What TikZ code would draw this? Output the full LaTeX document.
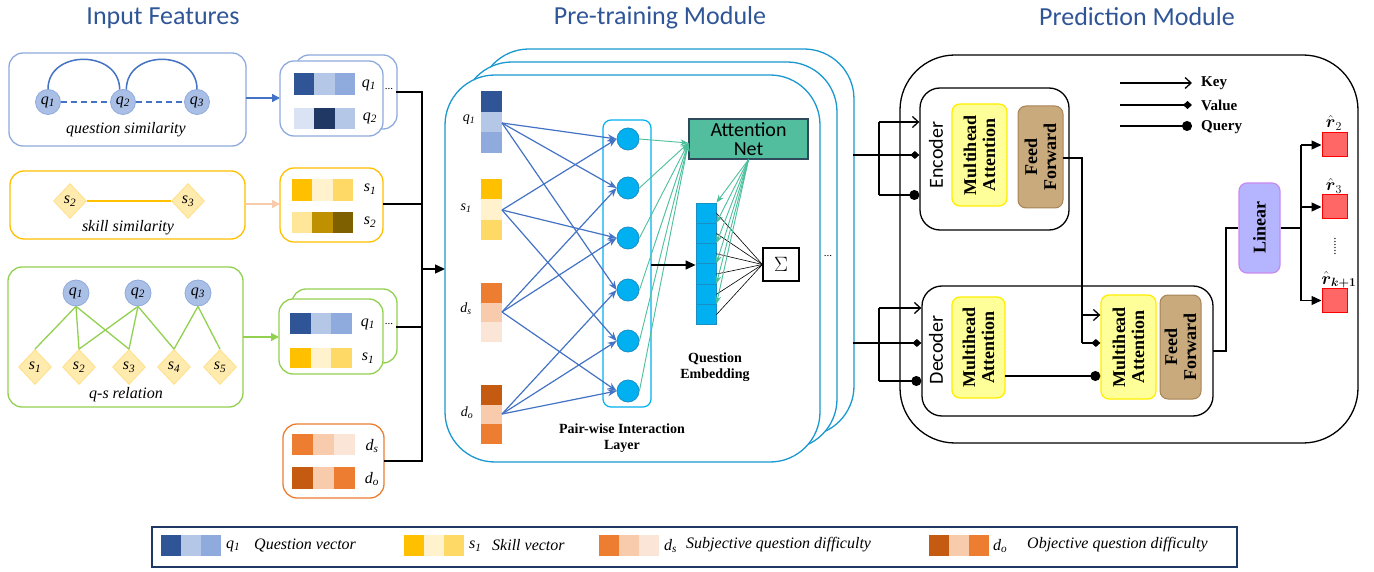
\documentclass[tikz,border=0pt]{standalone}
\usepackage{fontspec}
\usepackage{amsmath}
\setmainfont{Liberation Serif}
\newfontfamily\carl{Carlito}
\usetikzlibrary{arrows.meta,shapes.geometric,calc}
\definecolor{qA}{HTML}{2F5597}
\definecolor{qB}{HTML}{B4C7E7}
\definecolor{qC}{HTML}{8FAADC}
\definecolor{qD}{HTML}{DAE3F3}
\definecolor{qE}{HTML}{203864}
\definecolor{sA}{HTML}{FFC000}
\definecolor{sB}{HTML}{FFF2CC}
\definecolor{sC}{HTML}{FFD966}
\definecolor{sD}{HTML}{FFE699}
\definecolor{sE}{HTML}{BF9000}
\definecolor{sF}{HTML}{7F6000}
\definecolor{dA}{HTML}{ED7D31}
\definecolor{dB}{HTML}{F8CBAD}
\definecolor{dC}{HTML}{FBE5D6}
\definecolor{dD}{HTML}{C55A11}
\definecolor{qline}{HTML}{4472C4}
\definecolor{qfill}{HTML}{A9BFE6}
\definecolor{qdraw}{HTML}{8FAADC}
\definecolor{dfill}{HTML}{FFEBAD}
\definecolor{ddraw}{HTML}{FFE08A}
\definecolor{ggreen}{HTML}{92D050}
\definecolor{peach}{HTML}{F8CBAD}
\definecolor{modblue}{HTML}{1B98D0}
\definecolor{cyanA}{HTML}{00B0F0}
\definecolor{cyanB}{HTML}{1A8FC4}
\definecolor{attline}{HTML}{4CBF9C}
\definecolor{attfill}{HTML}{52BE9E}
\definecolor{attdraw}{HTML}{2E4A5C}
\definecolor{mhfill}{HTML}{FFFF99}
\definecolor{mhdraw}{HTML}{FFEE00}
\definecolor{fffill}{HTML}{C8AA7C}
\definecolor{ffdraw}{HTML}{A68458}
\definecolor{linfill}{HTML}{B4B4FF}
\definecolor{lindraw}{HTML}{CC88EE}
\definecolor{redfill}{HTML}{FF6666}
\definecolor{titleblue}{HTML}{2F5597}
\definecolor{legdraw}{HTML}{1F3864}
\newcommand\sbs[2]{#1\textsubscript{#2}}
% row of three cells: x y w h c1 c2 c3
\newcommand\hrow[7]{%
  \fill[#5] (#1,#2) rectangle ({#1+#3},{#2+#4});
  \fill[#6] ({#1+#3},#2) rectangle ({#1+2*#3},{#2+#4});
  \fill[#7] ({#1+2*#3},#2) rectangle ({#1+3*#3},{#2+#4});}
% column of three cells: x y w h c1 c2 c3
\newcommand\vcol[7]{%
  \fill[#5] (#1,#2) rectangle ({#1+#3},{#2+#4});
  \fill[#6] (#1,{#2+#4}) rectangle ({#1+#3},{#2+2*#4});
  \fill[#7] (#1,{#2+2*#4}) rectangle ({#1+#3},{#2+3*#4});}
\begin{document}
\begin{tikzpicture}[x=1pt,y=-1pt,
  every node/.style={inner sep=0pt},
  title/.style={font=\carl\fontsize{26}{26}\selectfont, text=titleblue},
  inbox/.style={rounded corners=14, line width=1.3, fill=white},
  qnode/.style={circle, fill=qfill, draw=qdraw, line width=0.8, minimum size=25, font=\fontsize{16}{16}\selectfont\itshape},
  snode/.style={diamond, fill=dfill, draw=ddraw, line width=0.8, minimum width=33, minimum height=35, font=\fontsize{16}{16}\selectfont\itshape},
  lab/.style={font=\fontsize{16}{16}\selectfont\itshape},
  vlab/.style={font=\fontsize{16}{16}\selectfont\itshape},
  mlab/.style={font=\fontsize{14}{14}\selectfont\itshape},
  blab/.style={font=\fontsize{14}{16}\selectfont\bfseries, align=center},
  feedarr/.style={line width=1.5, -{Triangle[length=8pt,width=8pt]}},
  blk/.style={line width=1.3, draw=black},
  modbox/.style={draw=modblue, line width=1.3, fill=white, rounded corners=50},
  pw/.style={draw=qline, line width=1.2, -{Stealth[length=9pt,width=7pt]}},
  circ/.style={circle, minimum size=22, fill=cyanA, draw=cyanB, line width=0.8},
  emb/.style={rectangle, minimum width=20, minimum height=20.3, fill=cyanA, draw=cyanB, line width=0.8},
  attl/.style={draw=attline, line width=0.9, -{Stealth[length=8pt,width=6pt]}},
  sq/.style={blk, rounded corners=20},
  mh/.style={rounded corners=8, fill=mhfill, draw=mhdraw, line width=1.3, align=center, font=\bfseries\fontsize{18}{19}\selectfont},
  ff/.style={rounded corners=8, fill=fffill, draw=ffdraw, line width=1.0, align=center, font=\bfseries\fontsize{18}{19}\selectfont},
  sideLab/.style={font=\carl\fontsize{20}{20}\selectfont, rotate=90},
  keyt/.style={blk, -{Straight Barb[length=6pt,width=11pt]}},
  valt/.style={blk, -{Diamond[length=9pt,width=8pt]}},
  qryt/.style={blk, -{Circle[length=10pt]}},
  tri/.style={blk, -{Triangle[length=10pt,width=9pt]}},
  redbox/.style={rectangle, minimum width=25, minimum height=24, fill=redfill, draw=red, line width=1},
  leglab/.style={font=\fontsize{16}{16}\selectfont\itshape, anchor=west}]
\useasboundingbox (0,0) rectangle (1374,572);

% ---------- titles
\node[title] (t1) at (163,18) {Input Features};
\node[title] (t2) at (660,18) {Pre-training Module};
\node[title] (t3) at (1137,17) {Prediction Module};

% ---------- question similarity
\draw[inbox, draw=qdraw] (9,53) rectangle (246,146);
\node[qnode] (a1) at (48,102) {\sbs{q}{1}};
\node[qnode] (a2) at (123,102) {\sbs{q}{2}};
\node[qnode] (a3) at (197,102) {\sbs{q}{3}};
\draw[qline, line width=1.5] (a1.north) .. controls +(0,-40) and +(0,-40) .. (a2.105);
\draw[qline, line width=1.5] (a2.75) .. controls +(0,-40) and +(0,-40) .. (a3.north);
\draw[qline, line width=1.5, dash pattern=on 6pt off 4pt] (a1.east) -- (a2.west);
\draw[qline, line width=1.5, dash pattern=on 6pt off 4pt] (a2.east) -- (a3.west);
\node[lab] (qsimt) at (126,130) {question similarity};
\coordinate (qsimo) at (246,98);
\coordinate (qveci) at (280,98);
\draw[feedarr, qline] (qsimo) -- (qveci);

\draw[inbox, draw=qdraw] (295,55) rectangle (397,129);
\draw[inbox, draw=qdraw] (280,61) rectangle (383,136);
\hrow{294}{73}{20.3}{22}{qA}{qB}{qC}
\hrow{294}{108}{20.3}{21}{qD}{qE}{qB}
\node[vlab] (qv1) at (369,85) {\sbs{q}{1}};
\node[vlab] (qv2) at (370,118) {\sbs{q}{2}};
\node[font=\fontsize{11}{11}\selectfont] (qdots) at (389,89) {...};

% ---------- skill similarity
\draw[inbox, draw=sA] (10,171) rectangle (245,239);
\node[snode] (b2) at (70,201) {\sbs{s}{2}};
\node[snode] (b3) at (188,201) {\sbs{s}{3}};
\draw[sA, line width=1.5] (b2.east) -- (b3.west);
\node[lab] (ssimt) at (128,228) {skill similarity};
\coordinate (ssimo) at (245,204);
\coordinate (sveci) at (280,204);
\draw[feedarr, peach] (ssimo) -- (sveci);

\draw[inbox, draw=sA] (280,168) rectangle (383,242);
\hrow{292}{179}{20.3}{22}{sA}{sB}{sC}
\hrow{292}{212}{20.3}{21}{sD}{sE}{sF}
\node[vlab] (sv1) at (370,189) {\sbs{s}{1}};
\node[vlab] (sv2) at (370,222) {\sbs{s}{2}};

% ---------- q-s relation
\draw[inbox, draw=ggreen] (8,267) rectangle (243,407);
\node[qnode, minimum size=26] (c1) at (76,293) {\sbs{q}{1}};
\node[qnode, minimum size=26] (c2) at (138,293) {\sbs{q}{2}};
\node[qnode, minimum size=26] (c3) at (198,293) {\sbs{q}{3}};
\node[snode] (d1) at (35,367) {\sbs{s}{1}};
\node[snode] (d2) at (79,367) {\sbs{s}{2}};
\node[snode] (d3) at (129,367) {\sbs{s}{3}};
\node[snode] (d4) at (174,367) {\sbs{s}{4}};
\node[snode] (d5) at (220,367) {\sbs{s}{5}};
\foreach \a/\b in {c1/d1,c1/d2,c1/d3,c2/d2,c2/d3,c2/d4,c3/d4,c3/d5}
  \draw[ggreen, line width=1.3] (\a.south) -- (\b.north);
\node[lab] (qsrt) at (126,395) {q-s relation};
\coordinate (qsro) at (243,337);
\coordinate (qsvi) at (279,337);
\draw[feedarr, ggreen] (qsro) -- (qsvi);

\draw[inbox, draw=ggreen] (292,289) rectangle (397,363);
\draw[inbox, draw=ggreen] (279,299) rectangle (383,374);
\hrow{290}{313}{20.7}{21}{qA}{qB}{qC}
\hrow{290}{348}{20.7}{20}{sA}{sB}{sC}
\node[vlab] (qsv1) at (368,324) {\sbs{q}{1}};
\node[vlab] (qsv2) at (368,358) {\sbs{s}{1}};
\node[font=\fontsize{11}{11}\selectfont] (qsdots) at (389,324) {...};

% ---------- difficulty
\draw[inbox, draw=dA] (283,424) rectangle (384,498);
\hrow{292}{434}{21}{21}{dA}{dB}{dC}
\hrow{292}{467}{21}{22}{dD}{dB}{dA}
\node[vlab] (dv1) at (372,446) {\sbs{d}{s}};
\node[vlab] (dv2) at (372,479) {\sbs{d}{o}};

% ---------- merge to module
\coordinate (m1) at (396,92);
\coordinate (m2) at (383,204);
\coordinate (m3) at (396,327);
\coordinate (m4) at (384,461);
\coordinate (j1) at (422,92);
\coordinate (j2) at (422,204);
\coordinate (j3) at (422,327);
\coordinate (j4) at (422,461);
\coordinate (jin) at (422,269);
\coordinate (modin) at (445,269);
\draw[blk] (m1) -- (j1) -- (j4) -- (m4);
\draw[blk] (m2) -- (j2);
\draw[blk] (m3) -- (j3);
\draw[tri] (jin) -- (modin);

% ---------- pre-training module
\draw[modbox] (479,49) rectangle (854,436);
\draw[modbox] (462,62) rectangle (837,449);
\draw[modbox] (445,75) rectangle (820,462);

\vcol{481}{91}{21}{20.7}{qA}{qB}{qC}
\vcol{481}{179}{21}{20.3}{sA}{sB}{sC}
\vcol{481}{283}{21}{19.7}{dA}{dB}{dC}
\vcol{481}{385}{21}{19.7}{dD}{dB}{dA}
\node[mlab] (lq) at (469,120) {\sbs{q}{1}};
\node[mlab] (ls) at (466,208) {\sbs{s}{1}};
\node[mlab] (ld) at (466,309) {\sbs{d}{s}};
\node[mlab] (lo) at (467,413) {\sbs{d}{o}};
\coordinate (vq) at (502,123);
\coordinate (vs) at (502,210);
\coordinate (vd) at (502,312);
\coordinate (vo) at (502,414);

\draw[draw=cyanA, line width=1.2, rounded corners=8] (603,120) rectangle (651,407);
\node[circ] (p1) at (628,139) {};
\node[circ] (p2) at (628,188) {};
\node[circ] (p3) at (628,238) {};
\node[circ] (p4) at (628,290) {};
\node[circ] (p5) at (628,341) {};
\node[circ] (p6) at (628,391) {};
\foreach \s/\t in {vq/p1,vq/p2,vq/p4,vs/p1,vs/p3,vs/p5,vd/p2,vd/p3,vd/p6,vo/p4,vo/p5,vo/p6}
  \draw[pw] (\s) -- (\t.west);
\node[blab] (pwl) at (622,438) {Pair-wise Interaction\\Layer};

\node[rectangle, minimum width=119, minimum height=40, fill=attfill, draw=attdraw, line width=1.3, align=center, font=\carl\fontsize{20}{19}\selectfont] (att) at (748.5,139) {Attention\\Net};
\foreach \i in {1,...,6}
  \draw[attl] (p\i.east) -- ($(att.west)+(0,4)$);

\foreach \i in {1,...,6}
  \node[emb] (e\i) at (706,{203+10.15+20.3*(\i-1)}) {};
\coordinate (ilo) at (651,265);
\draw[tri] (ilo) -- (e4.west |- ilo);
\node[rectangle, minimum width=36, minimum height=33, draw=black, line width=1.2, font=\fontsize{22}{22}\selectfont] (sig) at (781,264.5) {$\Sigma$};
\foreach \i in {1,...,6} {
  \draw[black, line width=0.6] (e\i.east) -- (sig.west);
  \draw[attl] (att.south) -- (e\i.north east);
}
\node[blab] (qel) at (715,367) {Question\\Embedding};
\node[font=\fontsize{11}{11}\selectfont] (mdots) at (828,256) {...};

% ---------- prediction module
\draw[blk, rounded corners=55] (900,55) rectangle (1358,443);
\node[sq, minimum width=149, minimum height=142] (enc) at (994.5,159) {};
\node[sideLab] (encl) at (936,155) {Encoder};
\node[mh, rotate=90, minimum width=102, minimum height=55] (emh) at (979.5,155) {Multihead\\Attention};
\node[ff, rotate=90, minimum width=102, minimum height=45] (eff) at (1040.5,157) {Feed\\Forward};

\node[sq, minimum width=291, minimum height=130] (dec) at (1067.5,351) {};
\node[sideLab] (decl) at (936,350) {Decoder};
\node[mh, rotate=90, minimum width=101, minimum height=53] (dmh1) at (978.5,347.5) {Multihead\\Attention};
\node[mh, rotate=90, minimum width=104, minimum height=55] (dmh2) at (1128.5,347) {Multihead\\Attention};
\node[ff, rotate=90, minimum width=104, minimum height=41] (dff) at (1180.5,347) {Feed\\Forward};

% inputs from module
\coordinate (o1) at (853,155);
\coordinate (o2) at (853,343);
\coordinate (k1) at (879,122);
\coordinate (k2) at (879,155);
\coordinate (k3) at (879,195);
\coordinate (k4) at (879,308);
\coordinate (k5) at (879,343);
\coordinate (k6) at (879,381);
\draw[blk] (o1) -- (k2);
\draw[blk] (k1) -- (k3);
\draw[keyt] (k1) -- (enc.west |- k1);
\draw[valt] (k2) -- (enc.west |- k2);
\draw[qryt] (k3) -- (enc.west |- k3);
\draw[blk] (o2) -- (k5);
\draw[blk] (k4) -- (k6);
\draw[keyt] (k4) -- (dec.west |- k4);
\draw[valt] (k5) -- (dec.west |- k5);
\draw[qryt] (k6) -- (dec.west |- k6);

% encoder -> decoder
\coordinate (f1) at (1063,158);
\coordinate (f2) at (1082,158);
\coordinate (f3) at (1082,315);
\coordinate (f4) at (1082,343);
\coordinate (g1) at (1005,376);
\draw[blk] (f1) -- (f2) -- (f4);
\draw[keyt] (f3) -- (dmh2.north |- f3);
\draw[valt] (f4) -- (dmh2.north |- f4);
\draw[qryt] (g1) -- (dmh2.north |- g1);

% linear
\node[rounded corners=8, fill=linfill, draw=lindraw, line width=1.2, rotate=90, minimum width=90, minimum height=41, font=\bfseries\fontsize{18}{19}\selectfont] (lin) at (1259.5,228) {Linear};
\coordinate (h1) at (1213,351);
\coordinate (h2) at (1226,351);
\coordinate (h3) at (1226,228);
\draw[blk] (h1) -- (h2) -- (h3) -- (lin.north);

\node[redbox] (r1) at (1334.5,145) {};
\node[redbox] (r2) at (1334.5,207) {};
\node[redbox] (r3) at (1334.5,300.5) {};
\coordinate (l1) at (1301,228);
\coordinate (l2) at (1301,145);
\coordinate (l3) at (1301,207);
\coordinate (l4) at (1301,300.5);
\draw[blk] (lin.south) -- (l1);
\draw[blk] (l2) -- (l4);
\draw[tri] (l2) -- (r1.west);
\draw[tri] (l3) -- (r2.west);
\draw[tri] (l4) -- (r3.west);
\node[font=\fontsize{17}{17}\selectfont] (r1l) at (1334,123) {$\hat{\boldsymbol{r}}_2$};
\node[font=\fontsize{17}{17}\selectfont] (r2l) at (1334,186) {$\hat{\boldsymbol{r}}_3$};
\node[font=\fontsize{17}{17}\selectfont] (r3l) at (1339,280) {$\hat{\boldsymbol{r}}_{\boldsymbol{k+1}}$};
\node[rotate=90, font=\fontsize{12}{12}\selectfont] (vdots) at (1335,247) {......};

% key legend
\coordinate (kl1) at (1120,83);
\coordinate (kl2) at (1192,83);
\coordinate (kl3) at (1120,105);
\coordinate (kl4) at (1192,105);
\coordinate (kl5) at (1120,126);
\coordinate (kl6) at (1192,126);
\draw[keyt] (kl1) -- (kl2);
\draw[valt] (kl3) -- (kl4);
\draw[qryt] (kl5) -- (kl6);
\node[blab, font=\fontsize{15}{15}\selectfont\bfseries, anchor=west] (kk) at (1201,83) {Key};
\node[blab, font=\fontsize{15}{15}\selectfont\bfseries, anchor=west] (kv) at (1201,105) {Value};
\node[blab, font=\fontsize{15}{15}\selectfont\bfseries, anchor=west] (kq) at (1201,127) {Query};

% ---------- bottom legend
\draw[draw=legdraw, line width=1.5] (152,527) rectangle (1237,567);
\hrow{161}{535}{20}{21}{qA}{qB}{qC}
\node[leglab] (lg1) at (226,546) {\sbs{q}{1}};
\node[leglab] (lg1t) at (254,545) {Question vector};
\hrow{404}{535}{20}{21}{sA}{sB}{sC}
\node[leglab] (lg2) at (469,546) {\sbs{s}{1}};
\node[leglab] (lg2t) at (492,545) {Skill vector};
\hrow{599}{535}{20}{21}{dA}{dB}{dC}
\node[leglab] (lg3) at (664,546) {\sbs{d}{s}};
\node[leglab] (lg3t) at (686,545) {Subjective question difficulty};
\hrow{929}{535}{20}{21}{dD}{dB}{dA}
\node[leglab] (lg4) at (993,546) {\sbs{d}{o}};
\node[leglab] (lg4t) at (1027,545) {Objective question difficulty};
\end{tikzpicture}
\end{document}
